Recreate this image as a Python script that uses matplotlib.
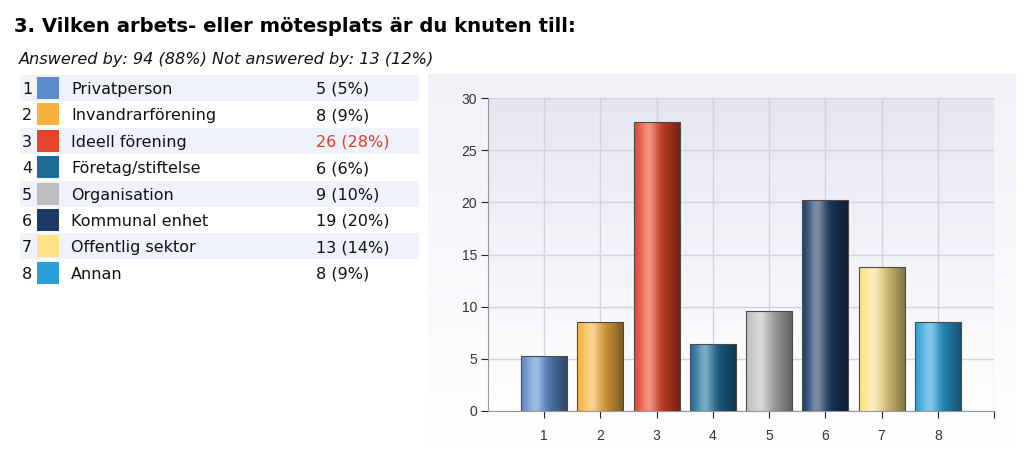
import numpy as np
import matplotlib
matplotlib.use("Agg")
import matplotlib.pyplot as plt
from matplotlib.colors import to_rgb

# data
title = "3. Vilken arbets- eller mötesplats är du knuten till:"
subtitle = "Answered by: 94 (88%) Not answered by: 13 (12%)"
labels = ["Privatperson", "Invandrarförening", "Ideell förening", "Företag/stiftelse",
          "Organisation", "Kommunal enhet", "Offentlig sektor", "Annan"]
counts = [5, 8, 26, 6, 9, 19, 13, 8]
shares = [5, 9, 28, 6, 10, 20, 14, 9]
bar_values = [5.3, 8.5, 27.7, 6.4, 9.6, 20.2, 13.8, 8.5]
colors = ["#5B8BCB", "#F8B23F", "#E4442A", "#1C6C97",
          "#BDBDBD", "#1B3A66", "#FFE18A", "#2A9FDB"]
yticks = [0, 5, 10, 15, 20, 25, 30]

W, H = 1029, 459
fig = plt.figure(figsize=(W / 100, H / 100), dpi=100)

# full-figure layer in pixel coords for the title, table and panel
bg = fig.add_axes([0, 0, 1, 1])
bg.set_zorder(0)
bg.axis("off")

# panel behind the chart (light vertical gradient)
ramp = np.linspace(0, 1, 100)[:, None]
top_c, bot_c = np.array(to_rgb("#F0F2F8")), np.array(to_rgb("#FFFFFF"))
panel = (top_c * (1 - ramp) + bot_c * ramp)[:, None, :]
bg.imshow(panel, extent=(428, 1016, 452, 74), aspect="auto", origin="upper")
bg.set_xlim(0, W)
bg.set_ylim(H, 0)

bg.text(14, 32, title, fontsize=14.1, fontweight="bold", family="DejaVu Sans",
        va="baseline", ha="left", color="#000")
bg.text(19, 64, subtitle, fontsize=11.6, style="italic", family="DejaVu Sans",
        va="baseline", ha="left", color="#111")

row0, step = 88, 26.4
top_idx = int(np.argmax(counts))
fs = 11.5
for i, (lab, n, p, c) in enumerate(zip(labels, counts, shares, colors)):
    yc = row0 + i * step
    if i % 2 == 0:
        bg.add_patch(plt.Rectangle((20, yc - 13), 399, 26, color="#EEF3FB", lw=0))
    bg.add_patch(plt.Rectangle((37, yc - 11), 22, 22, color=c, lw=0))
    bg.text(22, yc + 6, str(i + 1), fontsize=fs, va="baseline", color="#111")
    bg.text(71, yc + 6, lab, fontsize=fs, va="baseline", color="#111")
    bg.text(316, yc + 6, f"{n} ({p}%)", fontsize=fs, va="baseline",
            color="#E03C31" if i == top_idx else "#111")

# chart axes
ax = fig.add_axes([488 / W, 1 - 411 / H, (994 - 488) / W, (411 - 98) / H])
ax.set_zorder(1)
ax.patch.set_visible(False)

face = (np.array(to_rgb("#E6E6F2")) * (1 - ramp) + np.array(to_rgb("#FFFFFF")) * ramp)[:, None, :]
ax.imshow(face, extent=(0, 9, 0, 30), aspect="auto", origin="upper", zorder=0)


def cylinder(c, n=80):
    base = np.array(to_rgb(c))
    t = np.linspace(0, 1, n)
    light = 0.42 * np.exp(-((t - 0.32) / 0.2) ** 2)
    dark = 0.5 * np.clip((t - 0.32) / 0.68, 0, 1) ** 1.1
    col = base + (1 - base) * light[:, None]
    col = col * (1 - dark[:, None])
    return col[None, :, :]


x = np.arange(1, len(bar_values) + 1)
bars = ax.bar(x, bar_values, width=0.82, facecolor="none", edgecolor="#4a4a4a",
              linewidth=0.8, zorder=4)
for b, c in zip(bars, colors):
    x0, w, h = b.get_x(), b.get_width(), b.get_height()
    im = ax.imshow(cylinder(c), extent=(x0, x0 + w, 0, h), aspect="auto",
                   origin="upper", zorder=3)
    im.set_clip_path(b)

ax.set_xlim(0, 9)
ax.set_ylim(0, 30)
ax.set_xticks(range(1, 10))
ax.set_xticklabels([str(i) for i in range(1, 9)] + [""])
ax.set_yticks(yticks)
ax.grid(True, color="#D2D2DA", linewidth=1, zorder=1)
ax.set_axisbelow(True)
for s in ["top", "right"]:
    ax.spines[s].set_visible(False)
for s in ["left", "bottom"]:
    ax.spines[s].set_color("#999999")
ax.tick_params(axis="both", length=5, color="#222", labelcolor="#333", labelsize=10)
ax.tick_params(axis="x", pad=8)
ax.tick_params(axis="y", pad=3)
for lab in ax.get_xticklabels() + ax.get_yticklabels():
    lab.set_family("Liberation Sans")

fig.savefig("out.png", dpi=100)
